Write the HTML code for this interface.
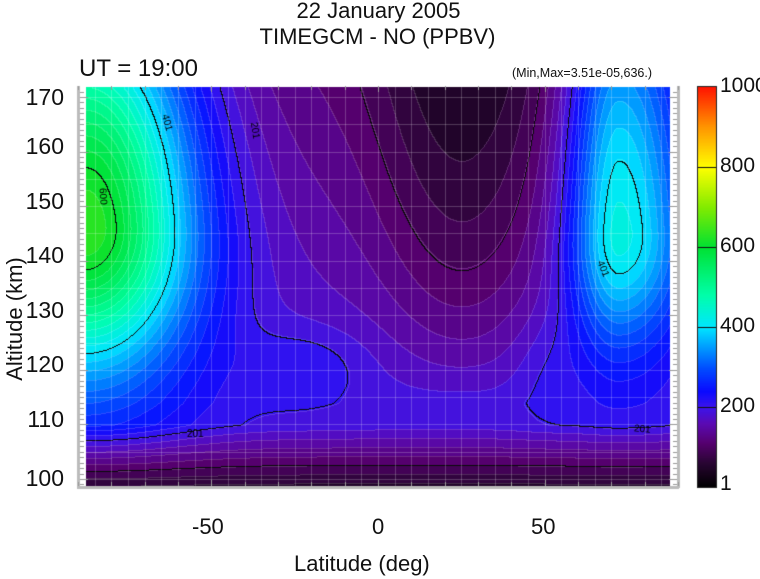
<!DOCTYPE html>
<html><head><meta charset="utf-8"><style>
html,body{margin:0;padding:0;background:#fff;}
body{width:760px;height:579px;position:relative;overflow:hidden;font-family:"Liberation Sans",sans-serif;color:#111;}
.t{position:absolute;white-space:nowrap;}
.yl{position:absolute;left:0;width:64px;text-align:right;font-size:23px;}
canvas{position:absolute;left:0;top:0;}
</style></head><body>
<canvas id="c" width="760" height="579"></canvas>
<div class="t" style="left:0;width:757px;text-align:center;top:-2px;font-size:22px;">22 January 2005</div>
<div class="t" style="left:0;width:755px;text-align:center;top:24px;font-size:22px;">TIMEGCM - NO (PPBV)</div>
<div class="t" style="left:79px;top:55px;font-size:24px;">UT = 19:00</div>
<div class="t" style="left:512px;top:66px;font-size:12.5px;">(Min,Max=3.51e-05,636.)</div>
<div class="yl" style="top:84px;">170</div>
<div class="yl" style="top:133px;">160</div>
<div class="yl" style="top:188px;">150</div>
<div class="yl" style="top:242px;">140</div>
<div class="yl" style="top:297px;">130</div>
<div class="yl" style="top:351px;">120</div>
<div class="yl" style="top:406px;">110</div>
<div class="yl" style="top:465px;">100</div>
<div class="t" style="left:-55px;top:306px;font-size:22px;transform:rotate(-90deg);width:140px;text-align:center;">Altitude (km)</div>
<div class="t" style="left:192px;top:514px;font-size:22px;">-50</div>
<div class="t" style="left:372px;top:514px;font-size:22px;">0</div>
<div class="t" style="left:531px;top:514px;font-size:22px;">50</div>
<div class="t" style="left:294px;top:551px;font-size:22px;">Latitude (deg)</div>
<div class="t" style="left:720px;top:74px;font-size:21px;">1000</div>
<div class="t" style="left:720px;top:154px;font-size:21px;">800</div>
<div class="t" style="left:720px;top:234px;font-size:21px;">600</div>
<div class="t" style="left:720px;top:314px;font-size:21px;">400</div>
<div class="t" style="left:720px;top:394px;font-size:21px;">200</div>
<div class="t" style="left:720px;top:472px;font-size:21px;">1</div>
<script>
var stops=[[0,0,0,0],[60,40,5,50],[110,85,0,110],[160,90,10,180],[200,60,20,235],[240,10,10,255],[300,0,80,255],[360,0,170,255],[400,0,230,255],[480,0,255,170],[600,0,225,50],[700,130,235,0],[800,255,255,0],[900,255,150,0],[1000,255,20,0]];
function cm(v){if(v<=0)return stops[0].slice(1);for(var i=1;i<stops.length;i++){if(v<=stops[i][0]){var a=stops[i-1],b=stops[i],t=(v-a[0])/(b[0]-a[0]);return[a[1]+t*(b[1]-a[1]),a[2]+t*(b[2]-a[2]),a[3]+t*(b[3]-a[3])];}}return stops[stops.length-1].slice(1);}
function g(x){return Math.exp(-x*x);}
function f(lat,h){
 var k=0.008+0.018*g((lat-25)/23);
 var bg=190*Math.exp(-Math.max(0,h-114)*k);
 bg+=35*g((lat+22)/18)*g((h-121)/7);
 bg+=20*g((lat-50)/10)*g((h-120)/10);
 var r=Math.min(1,Math.max(0,0.3+0.7*(h-99)/11));
 var dl=lat+88, sl=(h>147)?45:27;
 var pl=490*g(dl/(dl<0?31:33))*g((h-147)/sl);
 var dr=lat-72, wr=(dr<0)?15:22, sr=(h>146)?58:22;
 var pr=282*g(dr/wr)*g((h-146)/sr);
 return (bg+pl+pr)*r;
}
var c=document.getElementById('c').getContext('2d');
var x0=86,x1=670,y0=87,y1=487;
var W=x1-x0,H=y1-y0;
var img=c.createImageData(W,H),V=[];
for(var j=0;j<H;j++){var h=171.8-(j)/5.457;V[j]=[];for(var i=0;i<W;i++){var lat=(x0+i-378)/3.333;V[j][i]=f(lat,h);}}
for(var j=0;j<H;j++)for(var i=0;i<W;i++){var v=V[j][i];var q=Math.floor(v/20)*20+10;var col=cm(q);
 var p=(j*W+i)*4;var ql=Math.floor(v/20);
 var edge=(i>0&&Math.floor(V[j][i-1]/20)!=ql)||(j>0&&Math.floor(V[j-1][i]/20)!=ql);
 if(edge){col=[col[0]*0.85+40,col[1]*0.85+40,col[2]*0.85+40];}
 var black=false;[101,201,401,600].forEach(function(L){if((i>0&&(V[j][i-1]-L)*(v-L)<0)||(j>0&&(V[j-1][i]-L)*(v-L)<0))black=true;});
 if(black)col=[10,10,10];
 img.data[p]=col[0];img.data[p+1]=col[1];img.data[p+2]=col[2];img.data[p+3]=255;}
c.putImageData(img,x0,y0);
c.strokeStyle='rgba(255,255,255,0.22)';c.lineWidth=1;
for(var l=-85;l<=85;l+=5){var x=Math.round(378+l*3.333)+0.5;c.beginPath();c.moveTo(x,y0);c.lineTo(x,y1);c.stroke();}
for(var h=100;h<=170;h+=5){var y=Math.round(479-(h-100)*5.457)+0.5;c.beginPath();c.moveTo(x0,y);c.lineTo(x1,y);c.stroke();}
c.font='10px "Liberation Sans"';c.fillStyle='#000';
function lab(t,x,y,a){c.save();c.translate(x,y);c.rotate(a);c.fillText(t,-8,4);c.restore();}
lab('401',168,122,1.3);lab('201',256,130,1.4);lab('600',104,196,1.5);lab('401',604,268,1.2);lab('201',195,433,0);lab('201',642,428,0.1);
for(var y=87;y<487;y++){var v=(487-y)/400*1000;var col=cm(v);c.fillStyle='rgb('+col.map(Math.round).join(',')+')';c.fillRect(697,y,20,1);}
c.fillStyle='#111';[167,247,327,407].forEach(function(y){c.fillRect(697,y,20,1);});
c.strokeStyle='#222';c.strokeRect(697.5,86.5,19,401);
c.fillStyle='#bbb';c.fillRect(77,86,3,402);c.fillRect(77,486,602,3);c.fillRect(677,86,3,402);
c.fillStyle='#999';
for(var l=-90;l<=90;l+=10){var x=Math.round(378+l*3.333);var L=(l%50==0)?6:4;c.fillRect(x,486-L,1,L);c.fillRect(x,86,1,L);}
for(var h=99;h<=171;h++){var y=Math.round(479-(h-100)*5.457);var L=(h%10==0)?8:4;c.fillRect(80,y,L,1);c.fillRect(677-L,y,L,1);}
</script>
</body></html>
